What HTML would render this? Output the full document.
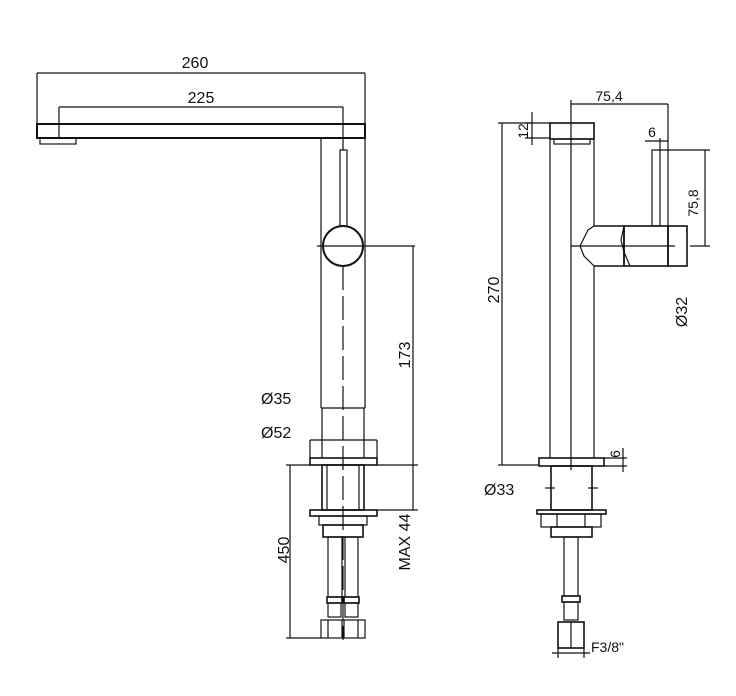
<!DOCTYPE html>
<html><head><style>body{margin:0;background:#fff}svg{display:block}text{font-family:"Liberation Sans",sans-serif;fill:#111}</style></head><body>
<svg width="736" height="696" viewBox="0 0 736 696" xmlns="http://www.w3.org/2000/svg">
<g stroke="#111" fill="none" stroke-width="1.2">
<line x1="37" y1="73" x2="365" y2="73"/>
<line x1="37" y1="73" x2="37" y2="124"/>
<line x1="365" y1="73" x2="365" y2="124"/>
<line x1="59" y1="107" x2="343" y2="107"/>
<line x1="59" y1="107" x2="59" y2="138"/>
<line x1="343" y1="107" x2="343" y2="150"/>
<rect x="37" y="124" width="328" height="14" stroke-width="2"/>
<rect x="40" y="138" width="36" height="6"/>
<line x1="321" y1="138" x2="321" y2="408"/>
<line x1="365" y1="138" x2="365" y2="408"/>
<line x1="321" y1="408" x2="365" y2="408"/>
<rect x="340" y="150" width="7" height="76"/>
<circle cx="343" cy="246" r="20" stroke-width="2"/>
<line x1="317" y1="246" x2="415" y2="246"/>
<line x1="343" y1="266" x2="343" y2="640" stroke-dasharray="24,6"/>
<line x1="413" y1="246" x2="413" y2="510"/>
<line x1="377" y1="465" x2="418" y2="465"/>
<line x1="377" y1="510" x2="418" y2="510"/>
<line x1="310" y1="440" x2="377" y2="440"/>
<rect x="310" y="458" width="67" height="7" stroke-width="1.6"/>
<line x1="310" y1="440" x2="310" y2="458"/>
<line x1="377" y1="440" x2="377" y2="458"/>
<line x1="322" y1="408" x2="322" y2="458"/>
<line x1="364" y1="408" x2="364" y2="458"/>
<rect x="322" y="465" width="42" height="45" stroke-width="1.6"/>
<line x1="327" y1="465" x2="327" y2="510"/><line x1="359" y1="465" x2="359" y2="510"/>
<rect x="310" y="510" width="67" height="6" stroke-width="1.6"/>
<rect x="319" y="516" width="48" height="9"/>
<rect x="323" y="525" width="40" height="12" stroke-width="1.6"/>
<rect x="328" y="537" width="14" height="60"/><rect x="345" y="537" width="13" height="60"/>
<rect x="327" y="597" width="15" height="6" stroke-width="1.6"/><rect x="344" y="597" width="15" height="6" stroke-width="1.6"/>
<rect x="328" y="603" width="13" height="14"/><rect x="345" y="603" width="13" height="14"/>
<rect x="321" y="620" width="44" height="18"/>
<line x1="328" y1="620" x2="328" y2="638"/><line x1="342" y1="620" x2="342" y2="638"/><line x1="344" y1="620" x2="344" y2="638"/><line x1="358" y1="620" x2="358" y2="638"/>
<line x1="290" y1="465" x2="290" y2="638"/>
<line x1="286" y1="465" x2="310" y2="465"/>
<line x1="286" y1="638" x2="321" y2="638"/>

<line x1="571" y1="104" x2="668" y2="104"/>
<line x1="571" y1="100" x2="571" y2="470"/>
<line x1="668" y1="104" x2="668" y2="226"/>
<rect x="550" y="123" width="44" height="16" stroke-width="1.6"/>
<rect x="554" y="139" width="36" height="5"/>
<line x1="550" y1="139" x2="550" y2="458"/>
<line x1="594" y1="139" x2="594" y2="226"/>
<line x1="594" y1="266" x2="594" y2="458"/>
<line x1="532" y1="112" x2="532" y2="145"/>
<line x1="525" y1="123" x2="550" y2="123"/>
<line x1="525" y1="138" x2="550" y2="138"/>
<line x1="502" y1="123" x2="502" y2="465"/>
<line x1="498" y1="123" x2="532" y2="123"/>
<line x1="498" y1="465" x2="539" y2="465"/>
<rect x="652" y="150" width="8" height="76"/>
<line x1="645" y1="141" x2="668" y2="141"/>
<line x1="660" y1="138" x2="660" y2="150"/>
<line x1="660" y1="150" x2="710" y2="150"/>
<line x1="705" y1="150" x2="705" y2="246"/>
<line x1="690" y1="246" x2="710" y2="246"/>
<path d="M594 226 L624 226 L624 266 L594 266" stroke-width="1.6"/>
<path d="M594 226 L588 230 L580 246 L584 256 L594 266"/>
<path d="M624 226 L621 240 L624 252 L630 266"/>
<rect x="624" y="226" width="44" height="40" stroke-width="1.6"/>
<rect x="668" y="226" width="19" height="40" stroke-width="1.6"/>
<line x1="571" y1="246" x2="675" y2="246"/>
<rect x="539" y="458" width="65" height="8" stroke-width="1.6"/>
<line x1="604" y1="458" x2="627" y2="458"/>
<line x1="604" y1="466" x2="627" y2="466"/>
<line x1="623" y1="448" x2="623" y2="472"/>
<rect x="551" y="466" width="41" height="44" stroke-width="1.6"/>
<line x1="545" y1="488" x2="555" y2="488"/><line x1="588" y1="488" x2="598" y2="488"/>
<rect x="537" y="510" width="69" height="4" stroke-width="1.6"/>
<rect x="541" y="514" width="60" height="13"/>
<line x1="557" y1="514" x2="557" y2="527"/><line x1="585" y1="514" x2="585" y2="527"/>
<rect x="551" y="527" width="41" height="10" stroke-width="1.6"/>
<rect x="564" y="537" width="14" height="59"/>
<rect x="562" y="596" width="18" height="6" stroke-width="1.6"/>
<rect x="564" y="602" width="14" height="18"/>
<rect x="558" y="622" width="26" height="26" stroke-width="1.6"/>
<line x1="571" y1="622" x2="571" y2="648"/>
<line x1="558" y1="648" x2="558" y2="658"/><line x1="584" y1="648" x2="584" y2="658"/>
<line x1="552" y1="653" x2="590" y2="653"/>
</g>
<g font-size="16">
<text x="195" y="68" text-anchor="middle">260</text>
<text x="201" y="103" text-anchor="middle">225</text>
<text x="261" y="404">Ø35</text>
<text x="261" y="438">Ø52</text>
<text transform="translate(410,355) rotate(-90)" text-anchor="middle">173</text>
<text transform="translate(289,550) rotate(-90)" text-anchor="middle">450</text>
<text transform="translate(410,542) rotate(-90)" text-anchor="middle">MAX 44</text>
<text x="484" y="495">Ø33</text>
<text transform="translate(687,312) rotate(-90)" text-anchor="middle">Ø32</text>
<text transform="translate(499,290) rotate(-90)" text-anchor="middle">270</text>
</g>
<g font-size="14">
<text x="609" y="101" text-anchor="middle">75,4</text>
<text x="652" y="137" text-anchor="middle">6</text>
<text transform="translate(528,131) rotate(-90)" text-anchor="middle">12</text>
<text transform="translate(698,203) rotate(-90)" text-anchor="middle">75,8</text>
<text transform="translate(620,454) rotate(-90)" text-anchor="middle">6</text>
<text x="591" y="652">F3/8"</text>
</g>
</svg>
</body></html>
